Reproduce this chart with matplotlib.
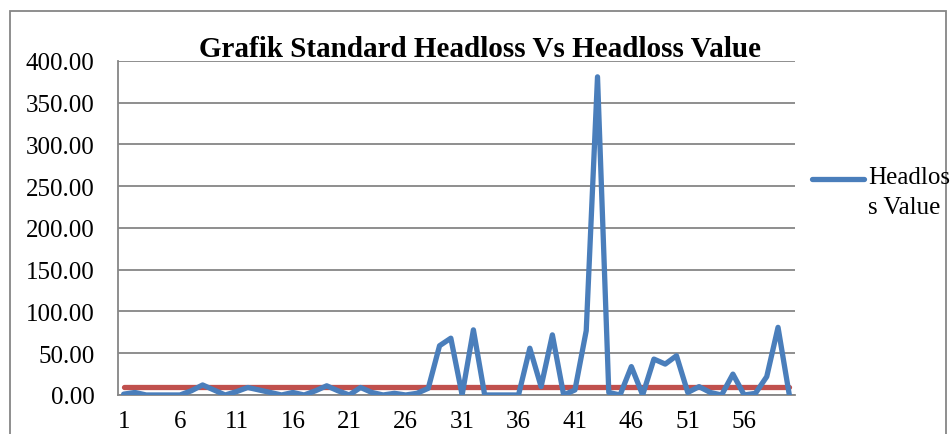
import matplotlib
matplotlib.use("Agg")
import matplotlib.pyplot as plt
from matplotlib.patches import Rectangle
from matplotlib.lines import Line2D

# headloss value per pipe segment
headloss = [1, 3, 0, 0, 0, 0, 5, 12, 6, 0,
            4, 9, 6, 3, 0, 3, 0, 5, 11, 5,
            0, 9, 3, 0, 2, 0, 2, 8, 59, 68,
            0, 78, 0, 0, 0, 0, 56, 10, 72, 0,
            6, 77, 381, 3, 0, 34, 0, 43, 37, 47,
            3, 10, 3, 0, 25, 0, 2, 22, 81, 0]
standard_headloss = [10.0] * 60
x = list(range(1, len(headloss) + 1))
yticks = [0, 50, 100, 150, 200, 250, 300, 350, 400]
xticks = [1, 6, 11, 16, 21, 26, 31, 36, 41, 46, 51, 56]

plt.rcParams['font.family'] = ['Liberation Serif', 'DejaVu Serif']

fig = plt.figure(figsize=(9.5, 4.35), dpi=100)
ax = fig.add_axes([0.1242, 0.0897, 0.7126, 0.7678])

grid_c = '#868686'
ax.plot(x, standard_headloss, color='#C0504D', lw=3.8, solid_capstyle='round', zorder=3)
ax.plot(x, headloss, color='#4A7EBB', lw=3.8, solid_capstyle='round',
        solid_joinstyle='round', zorder=4)

ax.set_xlim(0.5, 60.5)
ax.set_ylim(0, 400)
ax.set_yticks(yticks)
ax.set_yticklabels([f'{v:.2f}' for v in yticks])
ax.set_xticks(xticks)
ax.tick_params(axis='both', length=0, labelsize=18)
ax.tick_params(axis='y', pad=17)
ax.tick_params(axis='x', pad=11)
ax.grid(axis='y', color=grid_c, lw=1.3)
ax.set_axisbelow(True)
for s in ['top', 'right']:
    ax.spines[s].set_visible(False)
for s in ['left', 'bottom']:
    ax.spines[s].set_color(grid_c)
    ax.spines[s].set_linewidth(1.3)

fig.text(0.505, 1 - 57 / 435, 'Grafik Standard Headloss Vs Headloss Value',
         ha='center', va='baseline', fontsize=21, fontweight='bold')

# legend (blue series only)
fig.add_artist(Line2D([812 / 950, 864 / 950], [1 - 180 / 435, 1 - 180 / 435],
                      color='#4A7EBB', lw=3.8, solid_capstyle='round'))
fig.text(868 / 950, 1 - 167 / 435, 'Headlos\ns Value', ha='left', va='top',
         fontsize=18, linespacing=1.45)

# chart border
fig.add_artist(Rectangle((10 / 950, -0.2), 936 / 950, 1.2 - 12 / 435,
                         transform=fig.transFigure, fill=False,
                         ec=grid_c, lw=1.3))

fig.savefig('out.png', dpi=100)
